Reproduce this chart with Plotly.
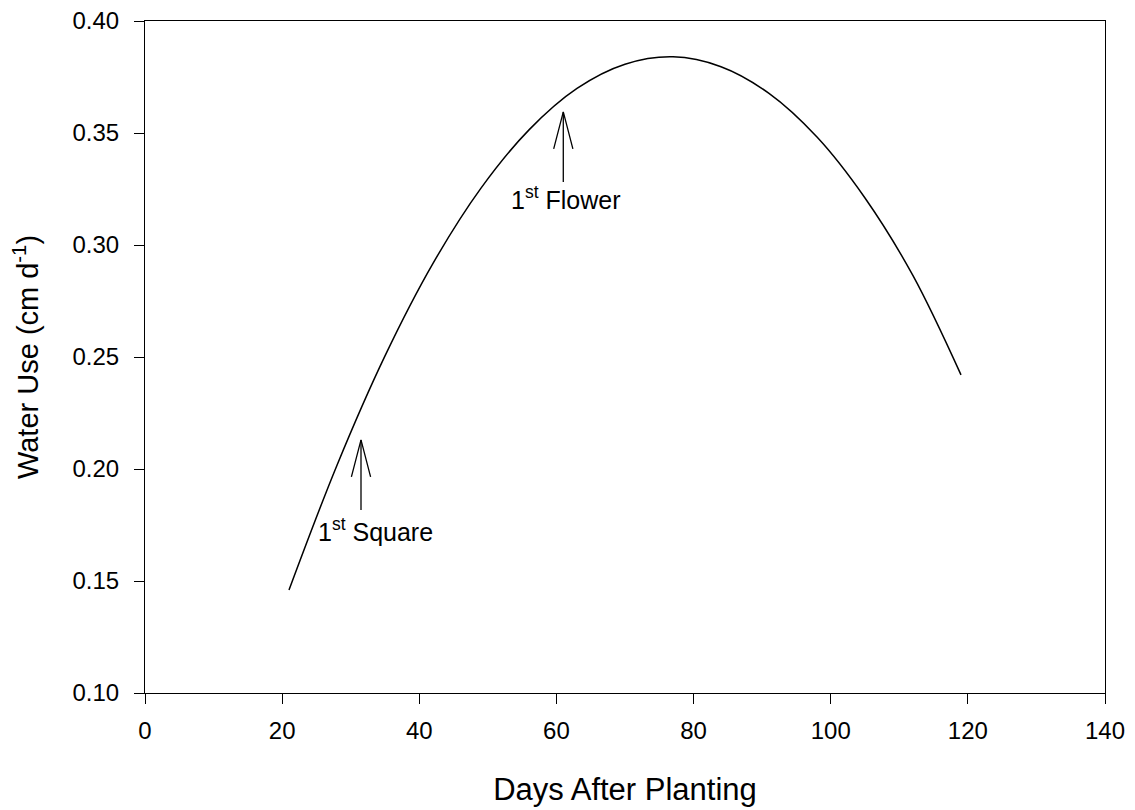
import plotly.graph_objects as go

# Data
days = [21, 28, 35, 42, 49, 56, 63, 70, 77, 84, 91, 98, 105, 112, 119]
water_use = [0.146, 0.2017, 0.2505, 0.2918, 0.3254, 0.3514, 0.3699, 0.3807,
             0.3840, 0.3796, 0.3677, 0.3482, 0.3210, 0.2863, 0.242]

# Stage markers
stage_names = ["1<sup>st</sup> Square", "1<sup>st</sup> Flower"]
stage_day = [31.5, 61.0]
stage_tip = [0.213, 0.3594]
label_day = [33.6, 61.4]
label_val = [0.1728, 0.321]

x_ticks = [0, 20, 40, 60, 80, 100, 120, 140]
y_ticks = [0.10, 0.15, 0.20, 0.25, 0.30, 0.35, 0.40]

FONT = "Arial, Liberation Sans, sans-serif"

fig = go.Figure()
fig.add_trace(go.Scatter(x=days, y=water_use, mode="lines",
                         line=dict(color="black", width=1.5, shape="spline", smoothing=1.0),
                         showlegend=False, hoverinfo="skip"))

shaft = 0.0313
barb_dx = 1.4
barb_dy = 0.0165
for name, xd, tip, lx, ly in zip(stage_names, stage_day, stage_tip, label_day, label_val):
    fig.add_trace(go.Scatter(
        x=[xd, xd, None, xd - barb_dx, xd, xd + barb_dx],
        y=[tip - shaft, tip, None, tip - barb_dy, tip, tip - barb_dy],
        mode="lines", line=dict(color="black", width=1.3),
        showlegend=False, hoverinfo="skip"))
    fig.add_annotation(x=lx, y=ly, text=name, showarrow=False,
                       xanchor="center", yanchor="middle",
                       font=dict(family=FONT, size=25, color="black"))

fig.update_layout(
    width=1135, height=810,
    margin=dict(l=137, r=38, t=13, b=125),
    plot_bgcolor="white", paper_bgcolor="white",
    font=dict(family=FONT, size=24, color="black"),
    xaxis=dict(range=[0, 140], tickvals=x_ticks, ticks="outside", ticklen=10,
               tickwidth=1.2, tickcolor="black", showline=True, linecolor="black",
               linewidth=1.2, mirror=True, showgrid=False, zeroline=False,
               automargin=False, ticklabelstandoff=6, ticklabeloverflow="allow",
               tickfont=dict(size=24),
               title=dict(text="Days After Planting", font=dict(size=31), standoff=35)),
    yaxis=dict(range=[0.10, 0.40], tickvals=y_ticks, tickformat=".2f", ticks="outside",
               ticklen=10, tickwidth=1.2, tickcolor="black", showline=True,
               linecolor="black", linewidth=1.2, mirror=True, showgrid=False,
               zeroline=False, automargin=False, ticklabelstandoff=10,
               ticklabeloverflow="allow",
               tickfont=dict(size=24),
               title=dict(text="Water Use (cm d<sup>-1</sup>)", font=dict(size=29), standoff=26)),
)

fig.write_html("out.html")
